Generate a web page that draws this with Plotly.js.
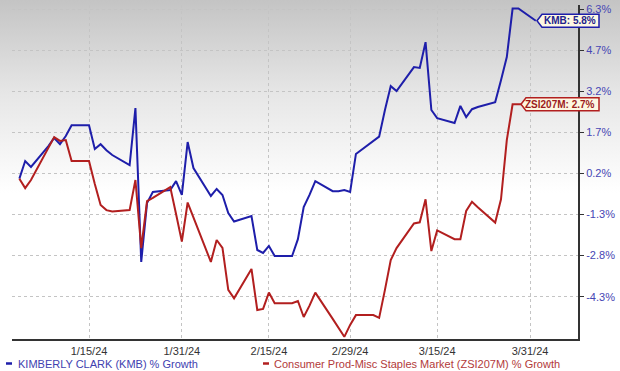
<!DOCTYPE html>
<html>
<head>
<meta charset="utf-8">
<script src="https://cdn.plot.ly/plotly-3.0.1.min.js"></script>
<style>
  html, body { margin: 0; padding: 0; }
  body { width: 620px; height: 371px; background: linear-gradient(to bottom, #c4c4c4 0%, #e6e6e6 25%, #ffffff 52%, #ffffff 100%); }
  #chart { width: 620px; height: 371px; }
</style>
</head>
<body>
<div id="chart"></div>
<script>
// ---- data ----
const dates = [
  '2024-01-03','2024-01-04','2024-01-05','2024-01-08','2024-01-09','2024-01-10','2024-01-11','2024-01-12',
  '2024-01-15','2024-01-16','2024-01-17','2024-01-18','2024-01-19','2024-01-22','2024-01-23','2024-01-24',
  '2024-01-25','2024-01-26','2024-01-29','2024-01-30','2024-01-31','2024-02-01','2024-02-02','2024-02-05',
  '2024-02-06','2024-02-07','2024-02-08','2024-02-09','2024-02-12','2024-02-13','2024-02-14','2024-02-15',
  '2024-02-16','2024-02-19','2024-02-20','2024-02-21','2024-02-22','2024-02-23','2024-02-26','2024-02-27',
  '2024-02-28','2024-02-29','2024-03-01','2024-03-04','2024-03-05','2024-03-06','2024-03-07','2024-03-08',
  '2024-03-11','2024-03-12','2024-03-13','2024-03-14','2024-03-15','2024-03-18','2024-03-19','2024-03-20',
  '2024-03-21','2024-03-22','2024-03-25','2024-03-26','2024-03-27','2024-03-28','2024-03-29','2024-04-01'
];
const kmbGrowth = [
  0.00, 0.65, 0.43, 1.20, 1.50, 1.27, 1.57, 1.97,
  1.97, 1.09, 1.27, 1.05, 0.87, 0.50, 2.60, -3.07,
  -0.90, -0.49, -0.42, -0.09, -0.60, 1.35, 0.39, -0.64,
  -0.38, -0.60, -1.27, -1.58, -1.38, -2.63, -2.74, -2.48,
  -2.85, -2.85, -2.23, -1.05, -0.60, -0.09, -0.46, -0.46,
  -0.42, -0.49, 0.91, 1.39, 1.55, 2.53, 3.41, 3.23,
  4.11, 4.08, 5.03, 2.53, 2.23, 2.05, 2.68, 2.27,
  2.56, 2.64, 2.82, 3.63, 4.48, 6.27, 6.27, 5.82
];
const zsiGrowth = [
  0.00, -0.35, -0.05, 1.16, 1.53, 1.39, 1.42, 0.65,
  0.65, -0.20, -0.97, -1.16, -1.21, -1.16, -0.05, -2.56,
  -0.83, -0.71, -0.31, -1.30, -2.32, -0.88, -1.41, -3.07,
  -2.26, -2.55, -4.10, -4.41, -3.33, -4.84, -4.80, -4.20,
  -4.59, -4.59, -4.51, -5.10, -4.68, -4.20, -5.17, -5.50,
  -5.83, -5.39, -5.03, -5.03, -5.13, -4.10, -3.00, -2.56,
  -1.65, -1.61, -0.76, -2.67, -1.91, -2.23, -2.23, -1.19,
  -0.85, -1.05, -1.62, -0.76, 1.42, 2.74, 2.74, 2.74
];
const xTickVals = ['2024-01-15','2024-01-31','2024-02-15','2024-02-29','2024-03-15','2024-03-31'];
const xTickText = ['1/15/24','1/31/24','2/15/24','2/29/24','3/15/24','3/31/24'];
const yTickVals = [6.25, 4.74, 3.22, 1.71, 0.20, -1.32, -2.83, -4.35];
const yTickText = ['6.3%','4.7%','3.2%','1.7%','0.2%','-1.3%','-2.8%','-4.3%'];
const seriesNames = ['KIMBERLY CLARK (KMB) % Growth', 'Consumer Prod-Misc Staples Market (ZSI207M) % Growth'];
const shortNames = ['KMB', 'ZSI207M'];

// ---- styles ----
const BLUE = '#1e1eaa';
const RED = '#b21f1f';
const FONT = 'Liberation Sans, Arial, sans-serif';
const yRange = [-5.91, 6.40];
const W = 620, H = 371;
const M = {l: 12, r: 42, t: 5, b: 32};
const plotW = W - M.l - M.r, plotH = H - M.t - M.b;
const px2paperX = p => (p - M.l) / plotW;
const px2paperY = p => (H - M.b - p) / plotH;
const val2paperY = v => (v - yRange[0]) / (yRange[1] - yRange[0]);

const traces = [
  {x: dates, y: kmbGrowth, type: 'scatter', mode: 'lines', name: seriesNames[0],
   line: {color: BLUE, width: 2}, showlegend: false, hoverinfo: 'skip'},
  {x: dates, y: zsiGrowth, type: 'scatter', mode: 'lines', name: seriesNames[1],
   line: {color: RED, width: 2}, showlegend: false, hoverinfo: 'skip'}
];

const lastK = kmbGrowth[kmbGrowth.length - 1];
const lastZ = zsiGrowth[zsiGrowth.length - 1];
const calloutRight = px2paperX(599);

function callout(val, w, color) {
  return {
    type: 'path', xref: 'paper', yref: 'paper',
    xsizemode: 'pixel', ysizemode: 'pixel',
    xanchor: calloutRight, yanchor: val2paperY(val),
    path: `M${-w},0 L${-w + 5},6.5 L0,6.5 L0,-6.5 L${-w + 5},-6.5 Z`,
    fillcolor: '#fdf7e2', line: {color: color, width: 1.5}, layer: 'above'
  };
}

const legY = px2paperY(363.5);
const shapes = [
  callout(lastK, 62, BLUE),
  callout(lastZ, 78, RED),
  {type: 'line', xref: 'paper', yref: 'paper', x0: px2paperX(6), x1: px2paperX(12), y0: legY, y1: legY,
   line: {color: BLUE, width: 2.5}},
  {type: 'line', xref: 'paper', yref: 'paper', x0: px2paperX(263), x1: px2paperX(269), y0: legY, y1: legY,
   line: {color: RED, width: 2.5}}
];

const annotations = [
  {xref: 'paper', yref: 'paper', x: px2paperX(570), y: val2paperY(lastK), xanchor: 'center', yanchor: 'middle',
   text: `<b>${shortNames[0]}: ${lastK.toFixed(1)}%</b>`, showarrow: false,
   font: {family: FONT, size: 10, color: '#22228c'}},
  {xref: 'paper', yref: 'paper', x: px2paperX(559.5), y: val2paperY(lastZ), xanchor: 'center', yanchor: 'middle',
   text: `<b>${shortNames[1]}: ${lastZ.toFixed(1)}%</b>`, showarrow: false,
   font: {family: FONT, size: 10, color: '#9c1c1c'}},
  {xref: 'paper', yref: 'paper', x: px2paperX(16), y: legY, xanchor: 'left', yanchor: 'middle',
   text: seriesNames[0], showarrow: false, font: {family: FONT, size: 11, color: '#4141b0'}},
  {xref: 'paper', yref: 'paper', x: px2paperX(272), y: legY, xanchor: 'left', yanchor: 'middle',
   text: seriesNames[1], showarrow: false, font: {family: FONT, size: 11, color: '#b23a3a'}}
];

const layout = {
  width: W, height: H, margin: M,
  paper_bgcolor: 'rgba(0,0,0,0)', plot_bgcolor: 'rgba(0,0,0,0)',
  font: {family: FONT},
  showlegend: false,
  xaxis: {
    type: 'date', range: ['2024-01-01 17:30', '2024-04-08 06:30'],
    tickmode: 'array', tickvals: xTickVals, ticktext: xTickText,
    showgrid: true, gridcolor: '#c4c4c4', griddash: 'dot', gridwidth: 1,
    showline: true, linecolor: '#333333', linewidth: 2,
    ticks: '', ticklabelstandoff: 1,
    tickfont: {family: FONT, size: 11, color: '#333333'},
    zeroline: false, fixedrange: true
  },
  yaxis: {
    side: 'right', range: yRange,
    tickmode: 'array', tickvals: yTickVals, ticktext: yTickText,
    showgrid: true, gridcolor: '#c4c4c4', griddash: 'dot', gridwidth: 1,
    showline: true, linecolor: '#333333', linewidth: 2,
    ticks: 'outside', ticklen: 4, tickcolor: '#333333',
    tickfont: {family: FONT, size: 11, color: '#4646b4'},
    zeroline: false, fixedrange: true
  },
  shapes: shapes,
  annotations: annotations
};

Plotly.newPlot('chart', traces, layout, {displayModeBar: false, staticPlot: true});
</script>
</body>
</html>
